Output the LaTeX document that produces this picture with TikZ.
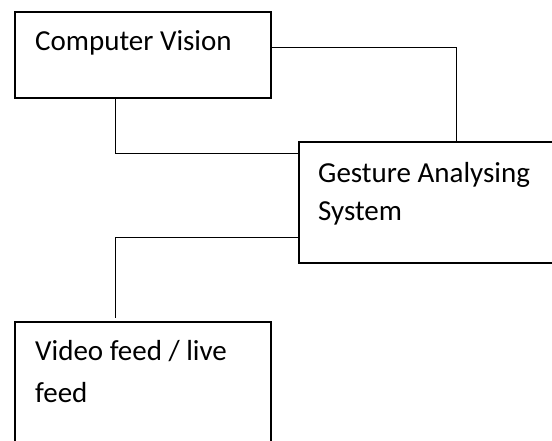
\documentclass[tikz,border=0pt]{standalone}
\usepackage{fontspec}
\setmainfont{Carlito}
\usetikzlibrary{calc}
\begin{document}
\begin{tikzpicture}[x=1pt,y=-1pt,
  box/.style={draw,line width=1.6pt,rectangle,inner sep=0pt,anchor=north west},
  link/.style={draw,line width=1pt},
  lbl/.style={anchor=base west,inner sep=0pt,font=\fontsize{29}{37}\selectfont}]
  \useasboundingbox[fill=white] (0,0) rectangle (552,441);
  % boxes
  \node[box,minimum width=256pt,minimum height=86pt] (cv) at (14,11) {};
  \node[box,minimum width=258pt,minimum height=121pt] (ga) at (298,141) {};
  \node[box,minimum width=256pt,minimum height=130pt] (vf) at (14,321) {};
  % labels
  \node[lbl] (cvt) at (35,51) {Computer Vision};
  \node[lbl] (gat1) at (318,183) {Gesture Analysing};
  \node[lbl] (gat2) at (318,220) {System};
  \node[lbl] (vft1) at (35,360) {Video feed / live};
  \node[lbl] (vft2) at (35,402) {feed};
  % connector anchor points
  \coordinate (cvr) at ($(cv.north east)+(0,37)$);
  \coordinate (gatop) at ($(ga.north west)+(158,0)$);
  \coordinate (cvb) at ($(cv.south west)+(101,0)$);
  \coordinate (gal1) at ($(ga.north west)+(0,13)$);
  \coordinate (gal2) at ($(ga.north west)+(0,96)$);
  \coordinate (vft) at ($(vf.north west)+(101,-3)$);
  % connectors
  \draw[link] (cvr) -| (gatop);
  \draw[link] (cvb) |- (gal1);
  \draw[link] (gal2) -| (vft);
\end{tikzpicture}
\end{document}
